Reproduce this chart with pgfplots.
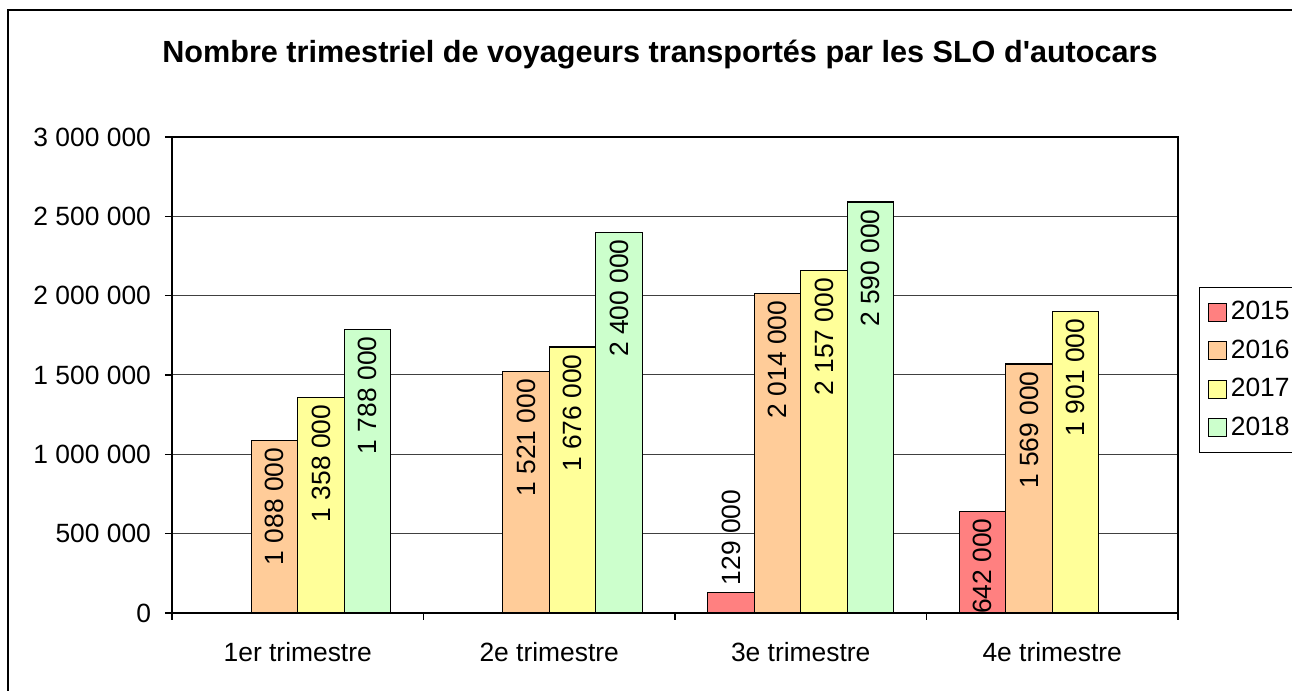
\documentclass[border=0pt]{standalone}
\usepackage{pgfplots}
\pgfplotsset{compat=1.18}
\usepackage{fontspec}
\setmainfont{Liberation Sans}
\definecolor{c15}{HTML}{FF8080}
\definecolor{c16}{HTML}{FFCC99}
\definecolor{c17}{HTML}{FFFF99}
\definecolor{c18}{HTML}{CCFFCC}
\begin{document}
\begin{tikzpicture}
\useasboundingbox (0pt,0pt) rectangle (646pt,345.5pt);
\begin{scope}
\clip (0pt,0pt) rectangle (646pt,345.5pt);
\draw[black, line width=0.6pt] (4pt,-5pt) rectangle (660pt,340.5pt);
\end{scope}
\node[font=\bfseries\fontsize{15.3}{18}\selectfont] at (330pt,318pt) {Nombre trimestriel de voyageurs transportés par les SLO d\textquotesingle autocars};
\begin{axis}[
  at={(86pt,39pt)}, anchor=south west,
  scale only axis, width=503pt, height=238pt,
  ybar=0pt, bar width=23.25pt,
  xmin=-0.5, xmax=3.5, ymin=0, ymax=3000000,
  ytick={0,500000,1000000,1500000,2000000,2500000,3000000},
  scaled y ticks=false,
  axis line style={black, line width=0.6pt},
  ymajorgrids, grid style={black!75, line width=0.5pt},
  tick pos=left,
  xtick={-0.5,0.5,1.5,2.5,3.5}, xticklabels={},
  extra x ticks={0,1,2,3},
  extra x tick labels={1er trimestre,2e trimestre,3e trimestre,4e trimestre},
  extra x tick style={major tick length=0pt, grid=none, xticklabel style={yshift=-11pt}},
  tick align=outside, major tick length=3.5pt,
  tick style={black, line width=0.6pt},
  /pgf/number format/assume math mode=true,
  /pgf/number format/fixed,
  /pgf/number format/1000 sep={\ },
  yticklabel style={xshift=-3.5pt},
  tick label style={font=\fontsize{13.2}{15}\selectfont},
  nodes near coords={\pgfmathprintnumber[fixed,1000 sep={\ }]{\pgfplotspointmeta}},
  every node near coord/.append style={rotate=90, anchor=east, font=\fontsize{13.2}{15}\selectfont, text=black},
  legend style={at={(1.0209,0.685)}, anchor=north west, draw=black, line width=0.6pt,
    font=\fontsize{13.2}{15}\selectfont, row sep=4.5pt, inner xsep=4pt, inner ysep=5pt,
    /tikz/every even column/.append style={column sep=1pt}},
  legend cell align=left,
  legend image code/.code={\draw[#1, draw=black, line width=0.6pt] (0pt,-4.5pt) rectangle (9pt,4.5pt);},
  clip=false,
]
\addplot[fill=c15, draw=black, line width=0.6pt, bar shift=-34.875pt] coordinates {(3,642000)};
\addplot[fill=c15, draw=black, line width=0.6pt, bar shift=-34.875pt, forget plot, nodes near coords style={anchor=west}] coordinates {(2,129000)};
\addplot[fill=c16, draw=black, line width=0.6pt, bar shift=-11.625pt] coordinates {(0,1088000) (1,1521000) (2,2014000) (3,1569000)};
\addplot[fill=c17, draw=black, line width=0.6pt, bar shift=11.625pt] coordinates {(0,1358000) (1,1676000) (2,2157000) (3,1901000)};
\addplot[fill=c18, draw=black, line width=0.6pt, bar shift=34.875pt] coordinates {(0,1788000) (1,2400000) (2,2590000)};
\legend{2015,2016,2017,2018}
\end{axis}
\end{tikzpicture}
\end{document}
